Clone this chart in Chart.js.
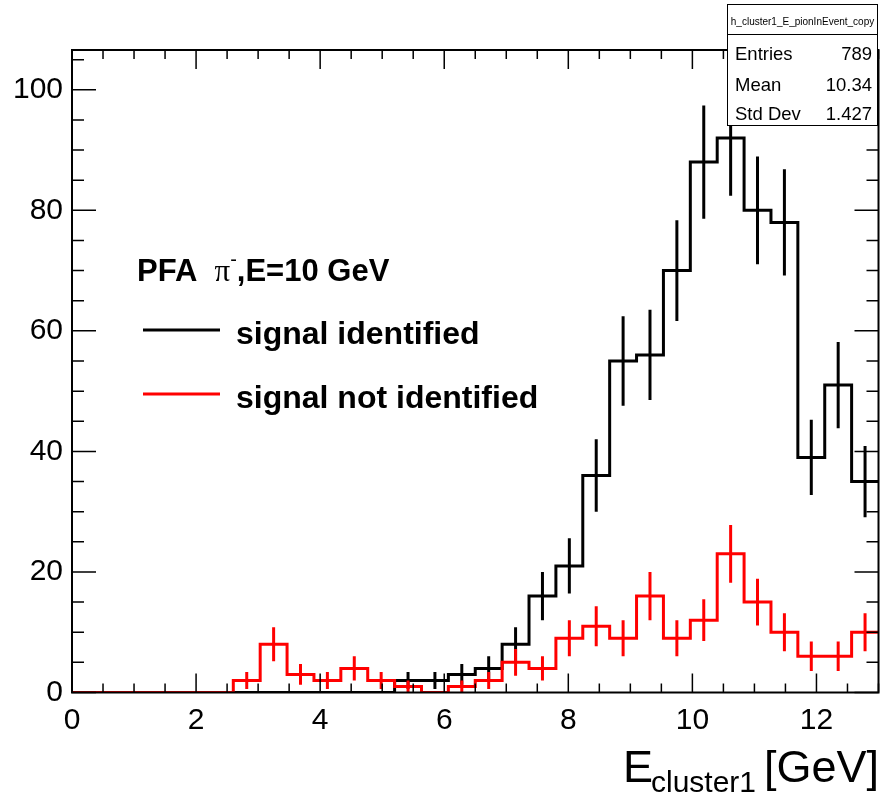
<!DOCTYPE html>
<html lang="en">
<head>
<meta charset="UTF-8">
<title>E cluster1 - PFA pi-, E=10 GeV</title>
<style>
    body { margin: 0; background: #fff; }
    #wrap { width: 881px; height: 797px; }
</style>
<script src="https://cdn.jsdelivr.net/npm/chart.js"></script>
</head>
<body>
<div id="wrap"><canvas id="hist" width="881" height="797"></canvas></div>
<script>
// binning of the histogram
const xMin = 0;
const xMax = 13;
const nBins = 30;
const yMax = 106.6;

// bin contents
const signalIdentified = [0, 0, 0, 0, 0, 0, 0, 0, 0, 0, 0, 0, 2, 2, 3, 4, 8, 16, 21, 36, 55, 56, 70, 88, 92, 80, 78, 39, 51, 35];
const signalNotIdentified = [0, 0, 0, 0, 0, 0, 2, 8, 3, 2, 4, 2, 1, 0, 1, 2, 5, 4, 9, 11, 9, 16, 9, 12, 23, 15, 10, 6, 6, 10];

const xTickLabels = [0, 2, 4, 6, 8, 10, 12];
const yTickLabels = [0, 20, 40, 60, 80, 100];

const histName = 'h_cluster1_E_pionInEvent_copy';
const statNames = ['Entries', 'Mean', 'Std Dev'];
const statValues = ['789', '10.34', '1.427'];

const legendLabels = ['signal identified', 'signal not identified'];
const FONT = '"Liberation Sans", Arial, Helvetica, sans-serif';

const binWidth = (xMax - xMin) / nBins;

// step outline: each point starts a bin, last one closes it
function stepPoints(counts) {
    const pts = counts.map((c, i) => ({ x: xMin + i * binWidth, y: c }));
    pts.push({ x: xMax, y: counts[counts.length - 1] });
    return pts;
}

// vertical sqrt(N) error bars at bin centres, separated by gaps
function errorPoints(counts) {
    const pts = [];
    counts.forEach((c, i) => {
        if (c <= 0) return;
        const xc = xMin + (i + 0.5) * binWidth;
        const e = Math.sqrt(c);
        pts.push({ x: xc, y: c - e }, { x: xc, y: c + e }, { x: xc, y: null });
    });
    return pts;
}

function lineSet(data, color, stepped) {
    return {
        data: data,
        borderColor: color,
        borderWidth: 3,
        pointRadius: 0,
        fill: false,
        tension: 0,
        stepped: stepped,
        spanGaps: false,
        borderCapStyle: 'butt',
        borderJoinStyle: 'miter'
    };
}

// frame, inner ticks, axis title, legend text and stats box (ROOT style)
const rootDecor = {
    id: 'rootDecor',
    afterDatasetsDraw(chart) {
        const ctx = chart.ctx;
        const { left, right, top, bottom } = chart.chartArea;
        const xs = chart.scales.x;
        const ys = chart.scales.y;
        ctx.save();

        // ticks
        ctx.strokeStyle = '#000';
        ctx.lineWidth = 1.5;
        ctx.beginPath();
        for (let k = 0; k * 0.5 <= xMax + 1e-9; k++) {
            const px = xs.getPixelForValue(xMin + k * 0.5);
            const len = (k % 4 === 0) ? 19 : 9;
            ctx.moveTo(px, bottom); ctx.lineTo(px, bottom - len);
            ctx.moveTo(px, top); ctx.lineTo(px, top + len);
        }
        for (let k = 0; k * 5 <= yMax; k++) {
            const py = ys.getPixelForValue(k * 5);
            const len = (k % 4 === 0) ? 24 : 12;
            ctx.moveTo(left, py); ctx.lineTo(left + len, py);
            ctx.moveTo(right, py); ctx.lineTo(right - len, py);
        }
        ctx.stroke();

        // frame
        ctx.lineWidth = 2;
        ctx.strokeRect(left, top, right - left, bottom - top);

        // axis title E_cluster1 [GeV], right-aligned on the frame edge
        ctx.fillStyle = '#000';
        ctx.textBaseline = 'alphabetic';
        ctx.textAlign = 'left';
        ctx.font = '45px ' + FONT;
        ctx.fillText('E', 623, 782);
        ctx.font = '30px ' + FONT;
        ctx.fillText('cluster1', 651, 792);
        ctx.font = '45px ' + FONT;
        ctx.textAlign = 'right';
        ctx.fillText('[GeV]', 879, 782);
        ctx.textAlign = 'left';

        // legend header
        let x = 137;
        const yHead = 281;
        ctx.font = 'bold 31px ' + FONT;
        ctx.fillText('PFA  ', x, yHead);
        x += ctx.measureText('PFA  ').width;
        ctx.font = '31px "Liberation Serif", "Times New Roman", serif';
        ctx.fillText('\u03C0', x, yHead);
        x += ctx.measureText('\u03C0').width;
        ctx.font = '20px ' + FONT;
        ctx.fillText('-', x, yHead - 15);
        x += ctx.measureText('-').width;
        ctx.font = 'bold 31px ' + FONT;
        ctx.fillText(',E=10 GeV', x, yHead);

        // legend entries
        const legendColors = ['#000000', '#ff0000'];
        const legendY = [330, 394];
        legendLabels.forEach((lab, i) => {
            ctx.strokeStyle = legendColors[i];
            ctx.lineWidth = 3;
            ctx.beginPath();
            ctx.moveTo(143, legendY[i]);
            ctx.lineTo(220, legendY[i]);
            ctx.stroke();
            ctx.fillStyle = '#000';
            ctx.font = 'bold 32px ' + FONT;
            ctx.fillText(lab, 236, legendY[i] + 14);
        });

        // stats box
        ctx.fillStyle = '#fff';
        ctx.fillRect(727.5, 4.5, 150, 121);
        ctx.strokeStyle = '#000';
        ctx.lineWidth = 1;
        ctx.strokeRect(727.5, 4.5, 150, 121);
        ctx.beginPath();
        ctx.moveTo(727.5, 34.5);
        ctx.lineTo(877.5, 34.5);
        ctx.stroke();
        ctx.fillStyle = '#000';
        ctx.font = '10px ' + FONT;
        ctx.textAlign = 'center';
        ctx.fillText(histName, 802.5, 25);
        ctx.font = '18.5px ' + FONT;
        const rowY = [60, 91, 120];
        statNames.forEach((name, i) => {
            ctx.textAlign = 'left';
            ctx.fillText(name, 735, rowY[i]);
            ctx.textAlign = 'right';
            ctx.fillText(statValues[i], 872, rowY[i]);
        });

        ctx.restore();
    }
};

new Chart(document.getElementById('hist'), {
    type: 'line',
    data: {
        datasets: [
            lineSet(errorPoints(signalNotIdentified), '#ff0000', false),
            lineSet(stepPoints(signalNotIdentified), '#ff0000', 'before'),
            lineSet(errorPoints(signalIdentified), '#000000', false),
            lineSet(stepPoints(signalIdentified), '#000000', 'before')
        ]
    },
    options: {
        responsive: false,
        animation: false,
        layout: { padding: { top: 50, right: 2.5, left: 0, bottom: 0 } },
        plugins: {
            legend: { display: false },
            tooltip: { enabled: false }
        },
        scales: {
            x: {
                type: 'linear',
                min: xMin,
                max: xMax,
                grid: { display: false, drawTicks: false },
                border: { display: false },
                ticks: {
                    color: '#000',
                    padding: 10,
                    maxRotation: 0,
                    font: { family: FONT, size: 30 }
                },
                afterBuildTicks: (scale) => { scale.ticks = xTickLabels.map(v => ({ value: v })); },
                afterFit: (scale) => { scale.height = 104.5; }
            },
            y: {
                type: 'linear',
                min: 0,
                max: yMax,
                grid: { display: false, drawTicks: false },
                border: { display: false },
                ticks: {
                    color: '#000',
                    padding: 9,
                    font: { family: FONT, size: 30 }
                },
                afterBuildTicks: (scale) => { scale.ticks = yTickLabels.map(v => ({ value: v })); },
                afterFit: (scale) => { scale.width = 72; }
            }
        }
    },
    plugins: [rootDecor]
});
</script>
</body>
</html>
